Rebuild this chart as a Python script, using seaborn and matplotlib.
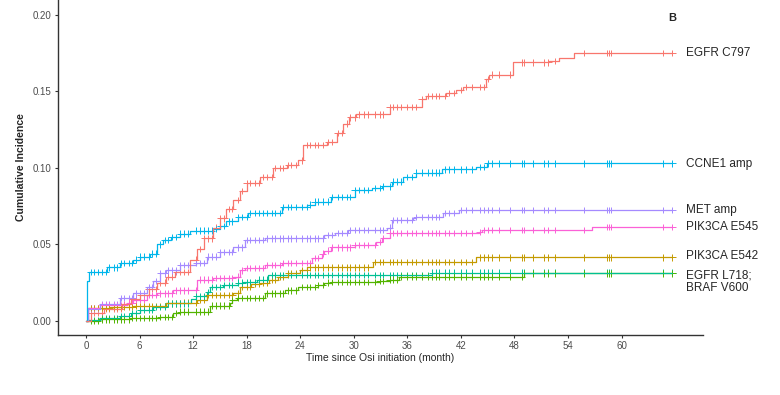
import numpy as np
import pandas as pd
import seaborn as sns
import matplotlib.pyplot as plt

# step knots (time in months, cumulative incidence)
groups = ['EGFR C797', 'CCNE1 amp', 'MET amp', 'PIK3CA E545', 'PIK3CA E542', 'EGFR L718', 'BRAF V600']
colors = ['#F8766D', '#00B6EB', '#A58AFF', '#FB61D7', '#C49A00', '#00C094', '#53B400']

c797_t = [0, 0.5, 2, 4, 5, 6, 7, 8, 9, 10, 11.6, 12.4, 13.2, 14.2, 15, 15.7, 16.5, 17.2, 18, 19.5, 20.9, 22.5,
          23.7, 24.3, 27.0, 28.1, 28.8, 29.5, 30.3, 34.0, 37.6, 38.1, 40.3, 41.5, 42.2, 44.8, 45.2, 47.8, 51.9, 53.0, 54.7]
c797_v = [0, 0.005, 0.008, 0.011, 0.014, 0.017, 0.021, 0.025, 0.029, 0.032, 0.040, 0.047, 0.054, 0.061, 0.067,
          0.073, 0.079, 0.085, 0.090, 0.094, 0.100, 0.102, 0.105, 0.115, 0.117, 0.123, 0.129, 0.133, 0.135, 0.140,
          0.145, 0.147, 0.149, 0.151, 0.153, 0.158, 0.161, 0.169, 0.170, 0.172, 0.175]

ccne1_t = [0, 0.05, 0.3, 2.3, 3.8, 5.3, 6.0, 7.2, 7.9, 8.6, 9.5, 10.5, 11.6, 14.2, 15.0, 15.7, 17.0, 18.1, 21.9,
           24.8, 25.6, 27.5, 30.1, 32.0, 33.2, 34.3, 35.5, 37.0, 39.9, 43.7, 44.9]
ccne1_v = [0, 0.026, 0.032, 0.035, 0.038, 0.040, 0.042, 0.044, 0.050, 0.053, 0.055, 0.057, 0.059, 0.060, 0.062,
           0.065, 0.068, 0.0705, 0.0745, 0.076, 0.078, 0.081, 0.0855, 0.087, 0.088, 0.091, 0.094, 0.097, 0.099,
           0.1007, 0.103]

met_t = [0, 0.2, 1.6, 3.8, 5.3, 6.8, 7.5, 8.3, 9.0, 10.5, 12.3, 13.5, 15.0, 16.5, 17.8, 20.0, 26.7, 27.9, 29.3,
         33.7, 34.3, 36.6, 37.0, 40.0, 41.8]
met_v = [0, 0.008, 0.011, 0.015, 0.018, 0.022, 0.026, 0.031, 0.033, 0.0365, 0.038, 0.042, 0.045, 0.048, 0.053,
         0.054, 0.056, 0.0575, 0.0595, 0.061, 0.066, 0.067, 0.068, 0.0705, 0.0725]

e545_t = [0, 0.2, 1.6, 4.6, 5.3, 6.8, 7.9, 9.7, 12.4, 14.2, 16.5, 17.2, 17.8, 20.0, 21.9, 25.3, 26.4, 26.7, 27.5,
          30.1, 32.5, 33.2, 34.0, 44.0, 44.4, 56.7]
e545_v = [0, 0.0085, 0.0105, 0.012, 0.0135, 0.017, 0.018, 0.020, 0.027, 0.028, 0.029, 0.033, 0.0345, 0.0365,
          0.038, 0.041, 0.044, 0.046, 0.048, 0.0495, 0.0515, 0.054, 0.0575, 0.058, 0.0595, 0.0615]

e542_t = [0, 0.2, 2.7, 5.3, 9.0, 11.0, 12.4, 13.5, 16.5, 17.2, 18.5, 19.5, 20.5, 21.5, 22.6, 24.0, 24.8, 32.1, 43.7]
e542_v = [0, 0.0085, 0.009, 0.0097, 0.0115, 0.012, 0.0135, 0.017, 0.018, 0.022, 0.024, 0.025, 0.027, 0.029,
          0.031, 0.033, 0.035, 0.0385, 0.0415]

l718_t = [0, 0.2, 1.6, 3.8, 5.0, 6.0, 7.5, 9.0, 11.8, 12.3, 13.5, 13.9, 15.3, 17.0, 17.6, 19.2, 20.4, 38.8]
l718_v = [0, 0.0005, 0.002, 0.003, 0.005, 0.007, 0.009, 0.0115, 0.014, 0.016, 0.019, 0.022, 0.0235, 0.025,
          0.0255, 0.027, 0.030, 0.0315]

v600_t = [0, 1.5, 5.0, 8.3, 9.7, 10.5, 13.9, 16.1, 16.3, 16.9, 20.0, 22.3, 23.7, 26.0, 26.7, 27.5, 32.9, 34.0,
          35.1, 49.1]
v600_v = [0, 0.001, 0.002, 0.0025, 0.005, 0.006, 0.010, 0.0115, 0.0135, 0.015, 0.018, 0.020, 0.022, 0.0235,
          0.025, 0.0255, 0.026, 0.027, 0.029, 0.031]

end_time = 65.7

# censoring times (shared by all curves)
censor_times = [0.5, 0.9, 1.3, 1.8, 2.2, 2.6, 3.1, 3.5, 3.9, 4.3, 4.8, 5.2, 5.6, 6.1, 6.5, 7.0, 7.4, 7.8, 8.3,
                8.8, 9.2, 9.6, 10.1, 10.5, 11.0, 11.4, 12.3, 12.8, 13.2, 13.7, 14.1, 14.6, 15.0, 15.5, 16.0, 16.4,
                17.0, 17.5, 18.0, 18.4, 18.9, 19.4, 19.8, 20.3, 20.8, 21.2, 21.7, 22.1, 22.6, 23.0, 23.5, 24.2,
                24.7, 25.1, 25.6, 26.0, 26.5, 27.1, 27.6, 28.2, 28.7, 29.2, 29.6, 30.1, 30.6, 31.1, 31.6, 32.4,
                32.9, 33.3, 34.0, 34.4, 34.8, 35.3, 36.0, 36.5, 37.0, 37.6, 38.3, 38.8, 39.2, 39.6, 40.2, 40.7,
                41.2, 42.0, 42.6, 43.2, 44.1, 44.6, 45.0, 45.5, 46.3, 47.5, 48.8, 49.1, 50.1, 51.3, 51.8, 52.5,
                55.8, 58.4, 58.6, 58.8, 64.6, 65.7]

# right-hand curve labels
label_text = ['EGFR C797', 'CCNE1 amp', 'MET amp', 'PIK3CA E545', 'PIK3CA E542', 'EGFR L718;\nBRAF V600']
label_y = [0.175, 0.1025, 0.0725, 0.0612, 0.0423, 0.0253]

knots = {
    'EGFR C797': (c797_t, c797_v), 'CCNE1 amp': (ccne1_t, ccne1_v), 'MET amp': (met_t, met_v),
    'PIK3CA E545': (e545_t, e545_v), 'PIK3CA E542': (e542_t, e542_v),
    'EGFR L718': (l718_t, l718_v), 'BRAF V600': (v600_t, v600_v),
}

rows, cens = [], []
for g in groups:
    t, v = knots[g]
    for ti, vi in zip(t + [end_time], v + [v[-1]]):
        rows.append((g, ti, vi))
    # value of the step function at each censor time
    idx = np.searchsorted(t, censor_times, side='right') - 1
    for ci, k in zip(censor_times, idx):
        cens.append((g, ci, v[k]))
df = pd.DataFrame(rows, columns=['group', 'time', 'ci'])
cdf = pd.DataFrame(cens, columns=['group', 'time', 'ci'])
pal = dict(zip(groups, colors))

sns.set_theme(style='ticks')
plt.rcParams['font.family'] = ['Liberation Sans', 'DejaVu Sans']

fig = plt.figure(figsize=(7.8, 3.95), dpi=100)
ax = fig.add_axes([0.0744, 0.152, 0.8266, 0.848])

sns.lineplot(data=df, x='time', y='ci', hue='group', palette=pal, hue_order=groups[::-1],
             drawstyle='steps-post', estimator=None, linewidth=0.9, legend=False, ax=ax)
sns.scatterplot(data=cdf, x='time', y='ci', hue='group', palette=pal, hue_order=groups[::-1],
                marker='+', s=22, linewidth=0.7, legend=False, ax=ax)

ax.set_xlim(-3.14, 69.1)
ax.set_ylim(-0.0092, 0.2098)
ax.set_xticks(range(0, 61, 6))
ax.set_yticks([0, 0.05, 0.10, 0.15, 0.20])
ax.set_yticklabels(['0.00', '0.05', '0.10', '0.15', '0.20'])
ax.tick_params(labelsize=7, labelcolor='#4D4D4D', length=2.5, width=0.8, color='#333333', pad=2)
for s in ['top', 'right']:
    ax.spines[s].set_visible(False)
for s in ['left', 'bottom']:
    ax.spines[s].set_color('#333333')
    ax.spines[s].set_linewidth(1.0)

ax.set_xlabel('Time since Osi initiation (month)', fontsize=7.5, labelpad=1)
ax.set_ylabel('Cumulative Incidence', fontsize=7.6, fontweight='bold', labelpad=5)

for txt, y in zip(label_text, label_y):
    ax.text(67.2, y, txt, fontsize=8.5, va='center', ha='left', linespacing=1.05, clip_on=False)
ax.text(65.7, 0.198, 'B', fontsize=8, fontweight='bold', ha='center', va='center')

fig.savefig('out.png', dpi=100)
